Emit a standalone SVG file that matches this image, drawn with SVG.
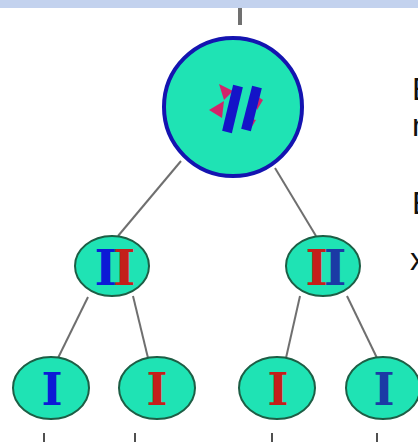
<svg xmlns="http://www.w3.org/2000/svg" width="418" height="442" viewBox="0 0 418 442">
<style>
.edge{stroke:#6f6f6f;stroke-width:2;fill:none}
.tick{stroke:#505050;stroke-width:2}
.node{fill:#1fe3b4;stroke:#1d5e45;stroke-width:2}
.root{fill:#1fe3b4;stroke:#1414b0;stroke-width:4}
.glyph{font-family:"DejaVu Serif",serif;font-weight:bold;text-anchor:middle}
.side{font-family:"Liberation Sans",Arial,sans-serif;font-size:32px;fill:#111}
.red{fill:#d3246a}
</style>
<rect x="0" y="0" width="418" height="8" fill="#c3d2ee"/>
<g id="connectors">
<line x1="240" y1="8" x2="240" y2="25" stroke="#707070" stroke-width="4"/>
<line class="edge" x1="181" y1="161" x2="118" y2="236"/>
<line class="edge" x1="275" y1="168" x2="316" y2="236"/>
<line class="edge" x1="88" y1="297" x2="58" y2="358"/>
<line class="edge" x1="133" y1="296" x2="148" y2="358"/>
<line class="edge" x1="300" y1="296" x2="286" y2="358"/>
<line class="edge" x1="347" y1="296" x2="377" y2="358"/>
<line class="tick" x1="44" y1="433" x2="44" y2="442"/>
<line class="tick" x1="135" y1="433" x2="135" y2="442"/>
<line class="tick" x1="272" y1="433" x2="272" y2="442"/>
<line class="tick" x1="377" y1="433" x2="377" y2="442"/>
</g>
<g id="root">
<circle class="root" cx="233" cy="107" r="69"/>
<polygon class="red" points="219,84 233,91 224,100"/>
<polygon class="red" points="209,110 224,101 222,118"/>
<polygon class="red" points="254,94 263,100 257,110"/>
<polygon class="red" points="245,117 256,120 250,130"/>
<line x1="238" y1="86" x2="227" y2="132" stroke="#1414c8" stroke-width="10"/>
<line x1="257" y1="87" x2="246" y2="130" stroke="#1414c8" stroke-width="10"/>
</g>
<g id="n-left">
<ellipse class="node" cx="112" cy="266" rx="37" ry="30"/>
<text class="glyph" x="113" y="285" font-size="48" letter-spacing="-4"><tspan fill="#0c1ad6">I</tspan><tspan fill="#c41f1a">I</tspan></text>
</g>
<g id="n-right">
<ellipse class="node" cx="323" cy="266" rx="37" ry="30"/>
<text class="glyph" x="324" y="285" font-size="48" letter-spacing="-4"><tspan fill="#c41f1a">I</tspan><tspan fill="#1b3aa5">I</tspan></text>
</g>
<g id="leaf1">
<ellipse class="node" cx="51" cy="388" rx="38" ry="31"/>
<text class="glyph" x="52" y="405" font-size="45" fill="#0c1ad6">I</text>
</g>
<g id="leaf2">
<ellipse class="node" cx="157" cy="388" rx="38" ry="31"/>
<text class="glyph" x="157" y="405" font-size="45" fill="#c41f1a">I</text>
</g>
<g id="leaf3">
<ellipse class="node" cx="277" cy="388" rx="38" ry="31"/>
<text class="glyph" x="278" y="405" font-size="45" fill="#c41f1a">I</text>
</g>
<g id="leaf4">
<ellipse class="node" cx="383" cy="388" rx="37" ry="31"/>
<text class="glyph" x="384" y="405" font-size="45" fill="#1b3aa5">I</text>
</g>
<g id="side-text">
<text class="side" x="412" y="100">E</text>
<text class="side" x="412" y="136">n</text>
<text class="side" x="412" y="214">E</text>
<text class="side" x="410" y="270">x</text>
</g>
</svg>
